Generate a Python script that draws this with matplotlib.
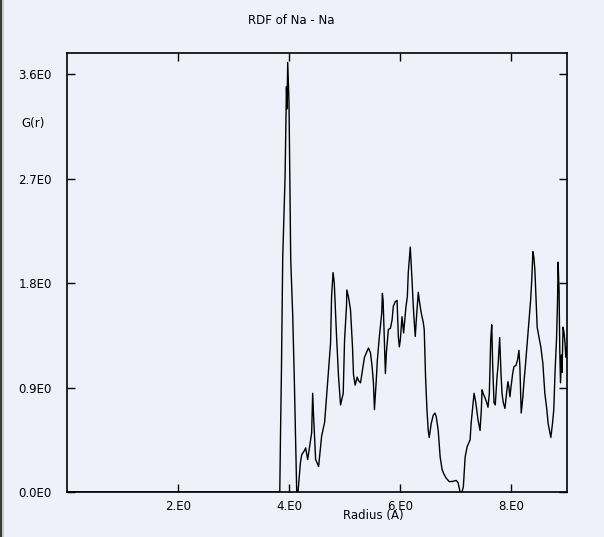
import matplotlib
matplotlib.use("Agg")
import matplotlib.pyplot as plt
import matplotlib.patches

# radius (A) and G(r)
radius = [0.0, 3.83, 3.842, 3.86, 3.883, 3.925, 3.95, 3.96, 3.973, 3.996,
          4.027, 4.063, 4.093, 4.117, 4.135, 4.158, 4.201, 4.224, 4.278, 4.296,
          4.332, 4.404, 4.422, 4.439, 4.475, 4.529, 4.583, 4.637, 4.691, 4.744,
          4.762, 4.789, 4.811, 4.852, 4.888, 4.924, 4.972, 4.996, 5.031, 5.037,
          5.067, 5.103, 5.139, 5.157, 5.187, 5.223, 5.247, 5.283, 5.318, 5.354,
          5.426, 5.462, 5.492, 5.516, 5.534, 5.564, 5.587, 5.623, 5.665, 5.677,
          5.690, 5.731, 5.749, 5.785, 5.821, 5.851, 5.874, 5.910, 5.941, 5.964,
          5.982, 6.000, 6.030, 6.059, 6.102, 6.126, 6.143, 6.179, 6.210, 6.233,
          6.251, 6.269, 6.287, 6.323, 6.341, 6.377, 6.413, 6.430, 6.454, 6.479,
          6.502, 6.520, 6.556, 6.592, 6.622, 6.646, 6.682, 6.717, 6.753, 6.789,
          6.825, 6.879, 6.933, 7.004, 7.040, 7.076, 7.112, 7.135, 7.166, 7.202,
          7.256, 7.274, 7.327, 7.358, 7.399, 7.435, 7.458, 7.471, 7.489, 7.525,
          7.555, 7.578, 7.602, 7.627, 7.645, 7.663, 7.686, 7.709, 7.740, 7.758,
          7.788, 7.812, 7.830, 7.853, 7.883, 7.919, 7.937, 7.955, 7.973, 7.991,
          8.022, 8.045, 8.081, 8.111, 8.135, 8.152, 8.176, 8.206, 8.224, 8.255,
          8.278, 8.314, 8.345, 8.368, 8.386, 8.404, 8.422, 8.439, 8.463, 8.493,
          8.529, 8.565, 8.601, 8.637, 8.660, 8.685, 8.709, 8.739, 8.762, 8.786,
          8.811, 8.829, 8.840, 8.857, 8.870, 8.883, 8.901, 8.911, 8.929, 8.947,
          8.965, 8.978, 9.0]
g_r = [0.0, 0.0, 0.46, 1.05, 2.02, 2.71, 3.49, 3.30, 3.70, 3.35,
       2.00, 1.52, 0.94, 0.39, 0.0, 0.0, 0.25, 0.32, 0.36, 0.38,
       0.28, 0.51, 0.85, 0.65, 0.28, 0.22, 0.48, 0.60, 0.94, 1.28,
       1.68, 1.89, 1.80, 1.34, 0.99, 0.75, 0.85, 1.31, 1.60, 1.74,
       1.68, 1.57, 1.25, 1.01, 0.92, 0.99, 0.96, 0.94, 1.05, 1.16,
       1.24, 1.20, 1.08, 0.94, 0.71, 0.94, 1.14, 1.34, 1.54, 1.71,
       1.65, 1.02, 1.20, 1.40, 1.41, 1.48, 1.60, 1.64, 1.65, 1.34,
       1.25, 1.31, 1.51, 1.37, 1.60, 1.68, 1.89, 2.11, 1.83, 1.60,
       1.46, 1.34, 1.48, 1.72, 1.65, 1.54, 1.46, 1.40, 0.99, 0.71,
       0.53, 0.47, 0.59, 0.66, 0.68, 0.65, 0.53, 0.30, 0.19, 0.15,
       0.12, 0.09, 0.09, 0.10, 0.08, 0.0, 0.0, 0.05, 0.30, 0.39,
       0.45, 0.59, 0.85, 0.77, 0.62, 0.53, 0.71, 0.88, 0.85, 0.81,
       0.77, 0.73, 0.85, 1.31, 1.44, 1.08, 0.77, 0.75, 0.99, 1.08,
       1.33, 1.02, 0.85, 0.77, 0.72, 0.88, 0.95, 0.90, 0.82, 0.90,
       1.02, 1.08, 1.09, 1.14, 1.22, 1.08, 0.68, 0.82, 0.94, 1.11,
       1.25, 1.46, 1.65, 1.85, 2.07, 2.02, 1.91, 1.71, 1.42, 1.34,
       1.25, 1.11, 0.85, 0.71, 0.59, 0.53, 0.47, 0.59, 0.71, 1.05,
       1.31, 1.63, 1.98, 1.74, 1.22, 0.94, 1.18, 1.03, 1.42, 1.37,
       1.28, 1.16, 1.25]

x_ticks = [2, 4, 6, 8]
x_ticklabels = ["2.E0", "4.E0", "6.E0", "8.E0"]
y_ticks = [0.0, 0.9, 1.8, 2.7, 3.6]
y_ticklabels = ["0.0E0", "0.9E0", "1.8E0", "2.7E0", "3.6E0"]

bg = "#f0f0fa"

fig = plt.figure(figsize=(6.04, 5.37), dpi=100, facecolor=bg)
ax = fig.add_axes([67 / 604, 1 - 492 / 537, 500 / 604, 439 / 537])
ax.set_facecolor(bg)

ax.plot(radius, g_r, color="black", linewidth=1.0)

ax.set_xlim(0, 9)
ax.set_ylim(0, 3.781)
ax.set_xticks(x_ticks)
ax.set_xticklabels(x_ticklabels)
ax.set_yticks(y_ticks)
ax.set_yticklabels(y_ticklabels)
ax.tick_params(direction="in", length=6, width=1, top=True, right=True,
               labelsize=8.5, colors="black")
ax.tick_params(axis="y", pad=11)
ax.tick_params(axis="x", pad=6)
for s in ax.spines.values():
    s.set_linewidth(1.2)

fig.text(291 / 604, 1 - 21 / 537, "RDF of Na - Na", ha="center", va="center", fontsize=8.5)
fig.text(21 / 604, 1 - 123 / 537, "G(r)", ha="left", va="center", fontsize=8.5)
fig.text(373 / 604, 1 - 515 / 537, "Radius (A)", ha="center", va="center", fontsize=8.5)

# window edge on the left
fig.patches.append(matplotlib.patches.Rectangle((0, 0), 2 / 604, 1, transform=fig.transFigure,
                                                facecolor="#3a3a3a", edgecolor="none"))
fig.patches.append(matplotlib.patches.Rectangle((2 / 604, 0), 2 / 604, 1, transform=fig.transFigure,
                                                facecolor="#c8c8c0", edgecolor="none"))

fig.savefig("out.png", dpi=100, facecolor=bg)
